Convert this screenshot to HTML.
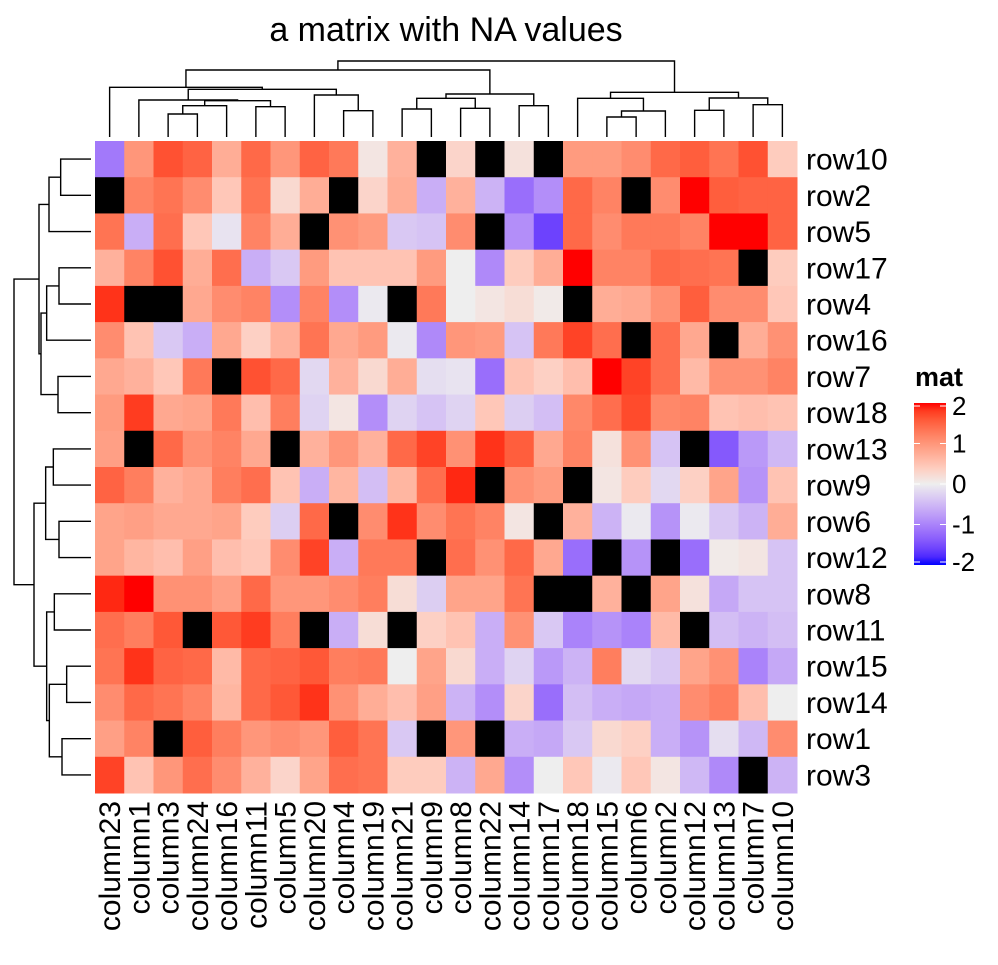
<!DOCTYPE html>
<html><head><meta charset="utf-8"><style>
body{margin:0;background:#fff;}
svg text{font-family:"Liberation Sans",Arial,sans-serif;}
</style></head><body>
<svg id="chart" width="998" height="960" viewBox="0 0 998 960" xmlns="http://www.w3.org/2000/svg">
<text x="446" y="41" font-size="34" text-anchor="middle">a matrix with NA values</text>
<g id="cells"></g>
<g id="coldend"></g>
<g id="rowdend"></g>
<g id="rowlabels"></g>
<g id="collabels"></g>
<g id="legend">
<text x="915" y="386" font-size="27" font-weight="bold">mat</text>
<defs><linearGradient id="lg" x1="0" y1="1" x2="0" y2="0"></linearGradient></defs>
<rect x="914" y="403" width="32" height="162" fill="url(#lg)"/>
</g>
</svg>
<script>
const rowNames=["row10","row2","row5","row17","row4","row16","row7","row18","row13","row9","row6","row12","row8","row11","row15","row14","row1","row3"];
const colNames=["column23","column1","column3","column24","column16","column11","column5","column20","column4","column19","column21","column9","column8","column22","column14","column17","column18","column15","column6","column2","column12","column13","column7","column10"];
const N=null;
const values=[
[-1.1,1.0,1.65,1.5,0.75,1.45,1.0,1.5, 1.3,0.1,0.7,N,0.3,N,0.15,N, 0.95,0.95,1.1,1.45,1.55,1.35,1.65,0.4],
[N,1.2,1.35,1.1,0.45,1.35,0.25,0.75, N,0.3,0.75,-0.6,0.7,-0.55,-1.2,-0.9, 1.45,1.2,N,1.1,2.0,1.55,1.5,1.5],
[1.35,-0.6,1.4,0.45,-0.1,1.2,0.75,N, 1.05,0.95,-0.35,-0.4,1.1,N,-0.9,-1.6, 1.45,1.1,1.3,1.3,1.2,2.0,2.0,1.5],
[0.7,1.2,1.65,0.75,1.4,-0.6,-0.35,0.95, 0.5,0.5,0.5,0.95,0.0,-0.95,0.4,0.75, 2.0,1.2,1.2,1.45,1.4,1.35,N,0.4],
[1.85,N,N,0.8,1.1,1.2,-0.9,1.2, -0.9,-0.05,N,1.3,0.0,0.1,0.2,0.05, N,0.75,0.8,1.05,1.55,1.1,1.1,0.45],
[1.1,0.5,-0.35,-0.6,0.8,0.35,0.7,1.35, 0.8,0.95,-0.05,-0.95,1.0,0.95,-0.4,1.3, 1.75,1.4,N,1.4,0.8,N,0.75,1.05],
[0.8,0.7,0.45,1.3,N,1.65,1.45,-0.2, 0.7,0.25,0.75,-0.15,-0.1,-1.2,0.5,0.35, 0.55,2.0,1.75,1.4,0.6,1.05,1.05,1.2],
[0.95,1.8,0.8,0.85,1.3,0.55,1.25,-0.25, 0.1,-0.9,-0.25,-0.4,-0.25,0.45,-0.3,-0.45, 1.15,1.4,1.7,1.15,1.2,0.5,0.55,0.5],
[0.9,N,1.45,1.05,1.2,0.8,N,0.7, 1.0,0.7,1.45,1.75,1.05,1.85,1.55,0.8, 1.2,0.15,1.05,-0.4,N,-1.4,-0.8,-0.5],
[1.5,1.25,0.7,0.8,1.25,1.4,0.5,-0.6, 0.65,-0.45,0.65,1.4,1.9,N,1.05,0.95, N,0.1,0.4,-0.2,0.35,0.85,-0.85,0.5],
[0.85,0.9,0.8,0.8,0.85,0.4,-0.3,1.45, N,1.1,1.85,1.1,1.35,1.2,0.1,N, 0.7,-0.55,-0.05,-0.85,-0.05,-0.35,-0.55,0.75],
[0.85,0.65,0.55,0.9,0.55,0.45,1.1,1.75, -0.6,1.3,1.3,N,1.4,1.05,1.45,0.8, -1.2,N,-0.85,N,-1.2,0.05,0.1,-0.4],
[1.9,2.0,1.05,1.05,0.9,1.45,1.0,1.0, 1.1,1.25,0.2,-0.3,0.85,0.85,1.35,N, N,0.7,N,0.85,0.15,-0.65,-0.4,-0.4],
[1.4,1.25,1.6,N,1.6,1.8,1.25,N, -0.6,0.2,N,0.35,0.5,-0.6,1.05,-0.35, -1.0,-0.85,-1.0,0.6,N,-0.45,-0.55,-0.45],
[1.35,1.85,1.5,1.45,0.6,1.45,1.5,1.6, 1.25,1.3,0.0,0.85,0.25,-0.6,-0.25,-0.8, -0.55,1.25,-0.2,-0.35,0.85,1.05,-1.0,-0.65],
[1.1,1.45,1.35,1.2,0.65,1.45,1.6,1.85, 1.05,0.75,0.55,0.9,-0.55,-0.9,0.3,-1.2, -0.45,-0.6,-0.65,-0.6,1.1,1.25,0.55,0.0],
[0.9,1.2,N,1.55,1.25,1.0,1.1,1.0, 1.55,1.35,-0.35,N,1.0,N,-0.6,-0.65, -0.35,0.25,0.35,-0.6,-0.85,-0.15,-0.5,1.1],
[1.75,0.5,1.0,1.4,1.1,0.7,0.3,0.85, 1.4,1.35,0.4,0.4,-0.55,0.8,-0.9,0.0, 0.45,-0.05,0.45,0.1,-0.5,-0.95,N,-0.55]
];
const legendTicks=[2,1,0,-1,-2];
const colMerges=[[2,3,177],["m0",4,152],[5,6,155],["m1","m2",137],[1,"m3",135],[8,9,167],[7,"m5",120],["m4","m6",103],[0,"m7",97],[10,11,162],[12,13,160],["m9","m10",130],[14,15,152],["m11","m12",117],["m8","m13",45],[17,18,186],["m15",19,168],[16,"m16",130],[20,21,166],[22,23,149],["m18","m19",129],["m17","m20",112],["m14","m21",18]];
const rowMerges=[[0,1,182],["m0",2,147],[3,4,177],["m2",5,140],[6,7,174],["m3","m4",123],["m1","m5",117],[8,9,160],[10,11,177],["m7","m8",137],[12,13,163],[14,15,200],[16,17,186],["m11","m12",148],["m10","m13",140],["m9","m14",102],["m6","m15",42]];

const X0=95,X1=797,Y0=141,Y1=793;
const cw=(X1-X0)/colNames.length, rh=(Y1-Y0)/rowNames.length;
const xOf=j=>X0+j*cw, yOf=i=>Y0+i*rh;
const NS="http://www.w3.org/2000/svg";
function mk(t,a,p){const e=document.createElementNS(NS,t);for(const k in a)e.setAttribute(k,a[k]);p.appendChild(e);return e;}
function s2l(c){c/=255;return c<=0.04045?c/12.92:Math.pow((c+0.055)/1.055,2.4);}
function l2s(c){c=c<=0.0031308?12.92*c:1.055*Math.pow(c,1/2.4)-0.055;return Math.max(0,Math.min(255,Math.round(c*255)));}
function toLab(r,g,b){r=s2l(r);g=s2l(g);b=s2l(b);let X=(0.4124*r+0.3576*g+0.1805*b)/0.95047,Y=0.2126*r+0.7152*g+0.0722*b,Z=(0.0193*r+0.1192*g+0.9505*b)/1.08883;const f=t=>t>0.008856?Math.cbrt(t):7.787*t+16/116;X=f(X);Y=f(Y);Z=f(Z);return[116*Y-16,500*(X-Y),200*(Y-Z)];}
function fromLab(L,a,b){let Y=(L+16)/116,X=a/500+Y,Z=Y-b/200;const fi=t=>t*t*t>0.008856?t*t*t:(t-16/116)/7.787;X=fi(X)*0.95047;Y=fi(Y);Z=fi(Z)*1.08883;const r=3.2406*X-1.5372*Y-0.4986*Z,g=-0.9689*X+1.8758*Y+0.0415*Z,bb=0.0557*X-0.2040*Y+1.0570*Z;return`rgb(${l2s(r)},${l2s(g)},${l2s(bb)})`;}
const cB=toLab(0,0,255),cW=toLab(238,238,238),cR=toLab(255,0,0);
function col(v){v=Math.max(-2,Math.min(2,v));let a,b,t;if(v>=0){a=cW;b=cR;t=v/2;}else{a=cW;b=cB;t=-v/2;}return fromLab(a[0]+(b[0]-a[0])*t,a[1]+(b[1]-a[1])*t,a[2]+(b[2]-a[2])*t);}

const cells=document.getElementById('cells');
values.forEach((row,i)=>row.forEach((v,j)=>{
  const r=mk('rect',{x:xOf(j),y:yOf(i),width:cw+0.5,height:rh+0.5,fill:v===null?'#000':col(v)},cells);
  
  
}));
const rl=document.getElementById('rowlabels');
rowNames.forEach((n,i)=>{const t=mk('text',{x:806,y:yOf(i)+rh/2+10.5,'font-size':30},rl);t.textContent=n;
  
  });
const cl=document.getElementById('collabels');
colNames.forEach((n,j)=>{const cx=xOf(j)+cw/2+10.5;const t=mk('text',{x:0,y:0,'font-size':30,'text-anchor':'end',transform:`translate(${cx},801) rotate(-90)`},cl);t.textContent=n;
  
  });

function drawDend(merges,g,leafPos,hToPx,vertical){
  const pos=[],hgt=[];
  const get=k=>typeof k==='number'?[leafPos(k),null]:[pos[+k.slice(1)],hgt[+k.slice(1)]];
  merges.forEach((m,idx)=>{
    const [pa,ha]=get(m[0]),[pb,hb]=get(m[1]);const h=hToPx(m[2]);
    const la=ha===null?(vertical?137:91):ha, lb=hb===null?(vertical?137:91):hb;
    const d=vertical?`M${pa},${la}V${h}H${pb}V${lb}`:`M${la},${pa}H${h}V${pb}H${lb}`;
    const p=mk('path',{d:d,fill:'none',stroke:'#000','stroke-width':1.4},g);
    
    
    pos[idx]=(pa+pb)/2;hgt[idx]=h;
  });
}
drawDend(colMerges,document.getElementById('coldend'),j=>xOf(j)+cw/2,z=>55+z/3,true);
drawDend(rowMerges,document.getElementById('rowdend'),i=>yOf(i)+rh/2,z=>z/3,false);

const lg=document.getElementById('lg');
for(let k=0;k<=20;k++){const v=-2+4*k/20;mk('stop',{offset:(k/20),'stop-color':col(v)},lg);}
const leg=document.getElementById('legend');
legendTicks.forEach(v=>{const y=403+(2-v)/4*162;const yy=Math.min(Math.max(y,406),562);
  mk('line',{x1:914,x2:920,y1:yy,y2:yy,stroke:'#fff','stroke-width':1},leg);
  mk('line',{x1:940,x2:946,y1:yy,y2:yy,stroke:'#fff','stroke-width':1},leg);
  const t=mk('text',{x:952,y:yy+9,'font-size':26},leg);t.textContent=v;
  
  });
</script>
</body></html>
